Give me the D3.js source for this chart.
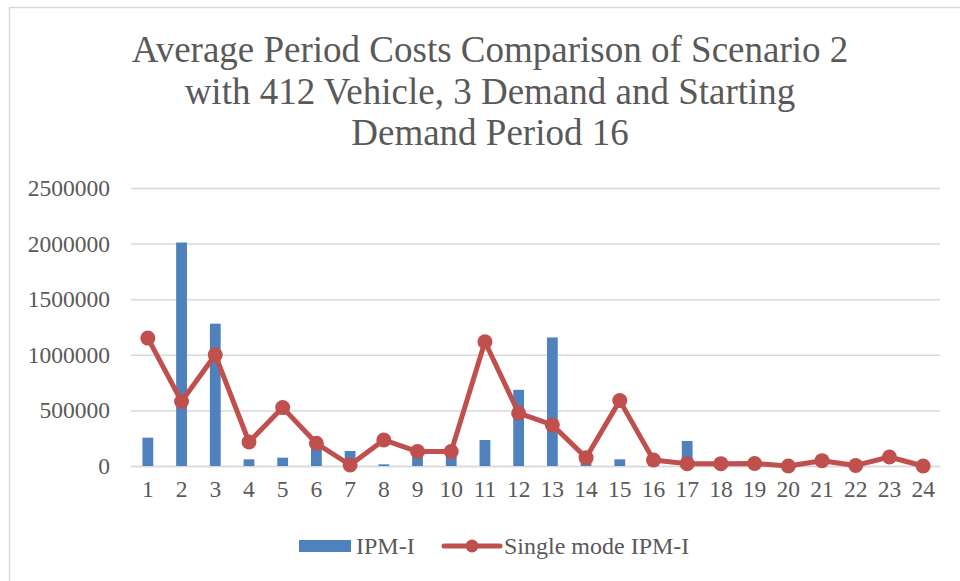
<!DOCTYPE html>
<html>
<head>
<meta charset="utf-8">
<script src="https://cdn.jsdelivr.net/npm/d3@7"></script>
<style>
  html, body { margin: 0; padding: 0; background: #fff; }
</style>
</head>
<body>
<svg id="chart" width="960" height="581"></svg>
<script>
const periods = ["1","2","3","4","5","6","7","8","9","10","11","12","13","14","15","16","17","18","19","20","21","22","23","24"];
const ipmValues = [255000, 2010000, 1280000, 60000, 75000, 240000, 135000, 15000, 125000, 125000, 234000, 685000, 1156000, 60000, 60000, 10000, 225000, 0, 0, 0, 0, 0, 0, 0];
const singleValues = [1150000, 580000, 1000000, 216000, 525000, 204000, 9000, 234000, 130000, 130000, 1117000, 475000, 369000, 75000, 588000, 54000, 21000, 21000, 22000, 0, 48000, 5000, 81000, 0];
const yTicks = [0, 500000, 1000000, 1500000, 2000000, 2500000];
const titleLines = ["Average Period Costs Comparison of Scenario 2", "with 412 Vehicle, 3 Demand and Starting", "Demand Period 16"];

const FONT = "'Liberation Serif', 'Times New Roman', serif";
const textColor = "#595959";
const svg = d3.select("#chart");
const grid = "#d9d9d9";
const blue = "#4f81bd";
const red = "#c0504d";

// outer chart frame (cropped at right/bottom)
svg.append("rect").attr("x", 9.5).attr("y", 7.5).attr("width", 960).attr("height", 600)
  .attr("fill", "#fff").attr("stroke", "#d9d9d9").attr("stroke-width", 1.5);

svg.append("g").selectAll("text")
  .data(titleLines)
  .join("text")
  .attr("x", 490)
  .attr("y", (d, i) => 62 + i * 41.7)
  .attr("text-anchor", "middle")
  .attr("fill", textColor)
  .style("font-family", FONT)
  .style("font-size", "37px")
  .text((d) => d);

const x = d3.scaleBand().domain(periods).range([131, 940]).padding(0);
const y = d3.scaleLinear().domain([0, 2500000]).range([466, 188]);
const barW = x.bandwidth() * 0.32;

svg.append("g")
  .attr("transform", "translate(131,0)")
  .call(d3.axisLeft(y).tickValues(yTicks).tickSize(-809).tickFormat(d3.format("d")).tickPadding(21))
  .call((axis) => axis.select(".domain").remove())
  .call((axis) => axis.selectAll("line").attr("stroke", grid).attr("stroke-width", 1.5))
  .call((axis) => axis.selectAll("text").attr("fill", textColor).style("font-size", "23.5px").style("font-family", FONT));

svg.append("g")
  .attr("transform", "translate(0,466)")
  .call(d3.axisBottom(x).tickSize(0).tickPadding(14))
  .call((axis) => axis.select(".domain").attr("stroke", grid).attr("stroke-width", 1.5))
  .call((axis) => axis.selectAll("text").attr("fill", textColor).style("font-size", "23.5px").style("font-family", FONT));

svg.append("g").selectAll("rect")
  .data(periods)
  .join("rect")
  .attr("x", (d) => x(d) + x.bandwidth() / 2 - barW / 2)
  .attr("y", (d, i) => y(ipmValues[i]))
  .attr("width", barW)
  .attr("height", (d, i) => y(0) - y(ipmValues[i]))
  .attr("fill", blue);

const line = d3.line()
  .x((d, i) => x(periods[i]) + x.bandwidth() / 2)
  .y((d) => y(d));
svg.append("path").attr("d", line(singleValues))
  .attr("fill", "none").attr("stroke", red).attr("stroke-width", 5).attr("stroke-linejoin", "round");
svg.append("g").selectAll("circle")
  .data(singleValues)
  .join("circle")
  .attr("cx", (d, i) => x(periods[i]) + x.bandwidth() / 2)
  .attr("cy", (d) => y(d))
  .attr("r", 7.5)
  .attr("fill", red);

// legend
const legend = svg.append("g").style("font-family", FONT).style("font-size", "24px");
legend.append("rect").attr("x", 299).attr("y", 540).attr("width", 52).attr("height", 12).attr("fill", blue);
legend.append("text").attr("x", 356).attr("y", 554).attr("fill", textColor).text("IPM-I");
legend.append("line").attr("x1", 444).attr("x2", 500).attr("y1", 546).attr("y2", 546)
  .attr("stroke", red).attr("stroke-width", 5).attr("stroke-linecap", "round");
legend.append("circle").attr("cx", 472).attr("cy", 546).attr("r", 6.5).attr("fill", red);
legend.append("text").attr("x", 504).attr("y", 554).attr("fill", textColor).text("Single mode IPM-I");
</script>
</body>
</html>
